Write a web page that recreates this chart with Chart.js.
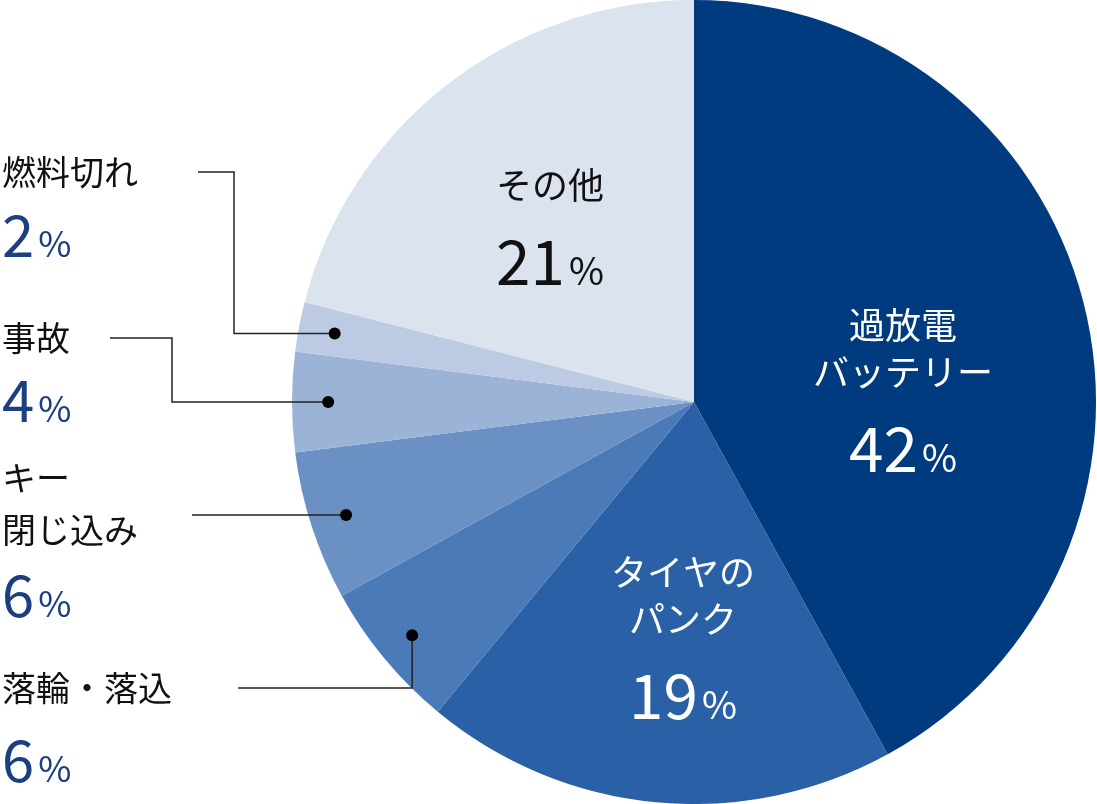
<!DOCTYPE html>
<html>
<head>
<meta charset="utf-8">
<script src="https://cdn.jsdelivr.net/npm/chart.js@4"></script>
<style>
  html, body { margin: 0; padding: 0; background: #ffffff; }
  #wrap { width: 1097px; height: 804px; }
</style>
</head>
<body>
<div id="wrap"><canvas id="pie" width="1097" height="804"></canvas></div>
<script>
/* ===============================
   DATA
=============================== */

const labels = ["過放電バッテリー", "タイヤのパンク", "落輪・落込", "キー閉じ込み", "事故", "燃料切れ", "その他"];

const values = [42, 19, 6, 6, 4, 2, 21];

const colors = ["#003a7f", "#2960a6", "#4a7bb8", "#6a90c4", "#9ab3d7", "#bccbe3", "#dbe3ef"];

const FONT = "'Noto Sans CJK JP', 'Noto Sans', sans-serif";

/* inside labels: slice index, text lines, text colour, x, y */
const insideLabels = [
    { i: 0, lines: ["過放電", "バッテリー"], color: "#ffffff", x: 903, y: 325 },
    { i: 1, lines: ["タイヤの", "パンク"], color: "#ffffff", x: 683, y: 572 },
    { i: 6, lines: ["その他"], color: "#111111", x: 550, y: 185 }
];

/* outside labels: slice index, text lines, anchor of first line, leader path */
const outsideLabels = [
    { i: 5, lines: ["燃料切れ"], y: 172, pct: 235, path: [[198, 172], [234, 172], [234, null]] },
    { i: 4, lines: ["事故"], y: 338, pct: 400, path: [[110, 338], [172, 338], [172, null]] },
    { i: 3, lines: ["キー", "閉じ込み"], y: 478, pct: 595, path: [[192, null]] },
    { i: 2, lines: ["落輪・落込"], y: 688, pct: 760, path: [[238, 688], [null, 688]] }
];

function drawPercent(ctx, value, x, y, color, big, small, align) {
    const num = String(value);
    ctx.fillStyle = color;
    ctx.textBaseline = "alphabetic";
    ctx.font = big + "px " + FONT;
    const wn = ctx.measureText(num).width;
    ctx.font = small + "px " + FONT;
    const wp = ctx.measureText("%").width;
    let left = align === "left" ? x : x - (wn + wp + 4) / 2;
    ctx.textAlign = "left";
    ctx.font = big + "px " + FONT;
    ctx.fillText(num, left, y);
    ctx.font = small + "px " + FONT;
    ctx.fillText("%", left + wn + 4, y);
}

const labelPlugin = {
    id: "labelPlugin",
    afterDraw(chart) {
        const ctx = chart.ctx;
        const arcs = chart.getDatasetMeta(0).data;
        ctx.save();

        insideLabels.forEach(l => {
            ctx.fillStyle = l.color;
            ctx.textAlign = "center";
            ctx.textBaseline = "middle";
            ctx.font = "36px " + FONT;
            l.lines.forEach((t, k) => ctx.fillText(t, l.x, l.y + k * 47));
            const baseY = l.y + (l.lines.length - 1) * 47 + 100;
            drawPercent(ctx, values[l.i], l.x, baseY, l.color, 62, 38, "center");
        });

        outsideLabels.forEach(l => {
            const a = arcs[l.i];
            const mid = (a.startAngle + a.endAngle) / 2;
            const r = a.outerRadius * 0.91;
            const dx = a.x + Math.cos(mid) * r;
            const dy = a.y + Math.sin(mid) * r;

            ctx.strokeStyle = "#222222";
            ctx.lineWidth = 1.5;
            ctx.beginPath();
            l.path.forEach((p, k) => {
                const px = p[0] === null ? dx : p[0];
                const py = p[1] === null ? dy : p[1];
                if (k === 0) ctx.moveTo(px, py); else ctx.lineTo(px, py);
            });
            ctx.lineTo(dx, dy);
            ctx.stroke();

            ctx.fillStyle = "#000000";
            ctx.beginPath();
            ctx.arc(dx, dy, 6, 0, Math.PI * 2);
            ctx.fill();

            ctx.fillStyle = "#111111";
            ctx.textAlign = "left";
            ctx.textBaseline = "middle";
            ctx.font = "34px " + FONT;
            l.lines.forEach((t, k) => ctx.fillText(t, 2, l.y + k * 52));
            drawPercent(ctx, values[l.i], 2, l.pct + 22, "#1b3f80", 58, 36, "left");
        });

        ctx.restore();
    }
};

new Chart(document.getElementById("pie"), {
    type: "pie",
    data: {
        labels: labels,
        datasets: [{ data: values, backgroundColor: colors, borderWidth: 0 }]
    },
    options: {
        responsive: false,
        animation: false,
        layout: { padding: { left: 291, right: 0, top: 0, bottom: 0 } },
        plugins: { legend: { display: false }, tooltip: { enabled: false } }
    },
    plugins: [labelPlugin]
});
</script>
</body>
</html>
